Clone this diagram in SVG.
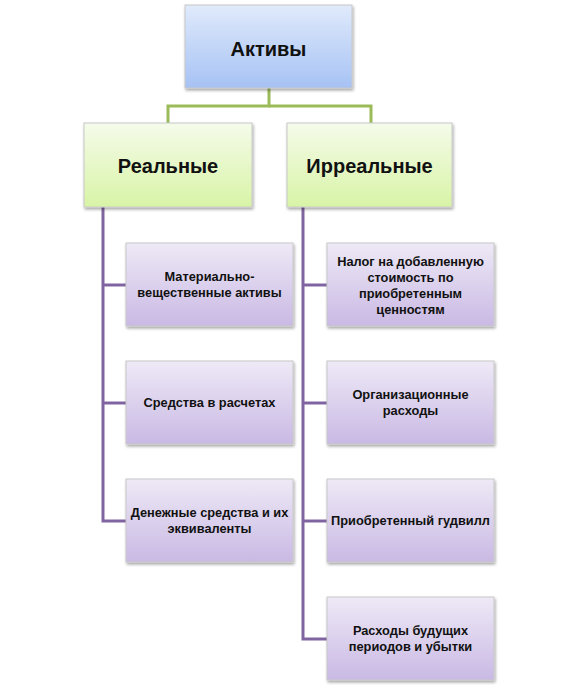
<svg xmlns="http://www.w3.org/2000/svg" width="580" height="690" viewBox="0 0 580 690">
<defs>
<linearGradient id="gBlue" x1="0" y1="0" x2="0" y2="1"><stop offset="0" stop-color="#e0eafb"/><stop offset="1" stop-color="#a6c2f4"/></linearGradient>
<linearGradient id="gGreen" x1="0" y1="0" x2="0" y2="1"><stop offset="0" stop-color="#f5fbea"/><stop offset="1" stop-color="#d8f4a6"/></linearGradient>
<linearGradient id="gPurple" x1="0" y1="0" x2="0" y2="1"><stop offset="0" stop-color="#eee9f6"/><stop offset="1" stop-color="#c9b9e4"/></linearGradient>
<filter id="sh" x="-10%" y="-10%" width="125%" height="130%"><feGaussianBlur in="SourceAlpha" stdDeviation="1.5"/><feOffset dx="1" dy="2"/><feComponentTransfer><feFuncA type="linear" slope="0.35"/></feComponentTransfer><feMerge><feMergeNode/><feMergeNode in="SourceGraphic"/></feMerge></filter>
</defs>
<style>
.box{stroke:#c8c8c8;stroke-width:1;filter:url(#sh)}
.b{fill:url(#gBlue)}
.g{fill:url(#gGreen)}
.p{fill:url(#gPurple)}
.big{font-family:"Liberation Sans",Arial,sans-serif;font-weight:bold;font-size:20px;fill:#111;text-anchor:middle}
.sm{font-family:"Liberation Sans",Arial,sans-serif;font-weight:bold;font-size:12.8px;fill:#111;text-anchor:middle}
.cg{stroke:#9bbb59;stroke-width:3;fill:none}
.cp{stroke:#8064a2;stroke-width:3;fill:none}
</style>
<g id="connectors">
<polyline class="cg" points="269,88 269,106 168,106 168,123"/>
<polyline class="cg" points="269,106 371,106 371,123"/>
<polyline class="cp" points="103,207 103,521 126,521"/>
<line class="cp" x1="103" y1="285" x2="126" y2="285"/>
<line class="cp" x1="103" y1="403" x2="126" y2="403"/>
<polyline class="cp" points="303,207 303,639 327,639"/>
<line class="cp" x1="303" y1="285" x2="327" y2="285"/>
<line class="cp" x1="303" y1="403" x2="327" y2="403"/>
<line class="cp" x1="303" y1="521" x2="327" y2="521"/>
</g>
<g id="aktivy"><rect class="box b" x="185" y="5" width="167" height="83"/><text class="big" x="268.5" y="56">Активы</text></g>
<g id="realnye"><rect class="box g" x="84" y="123" width="168" height="84"/><text class="big" x="168" y="173">Реальные</text></g>
<g id="irrealnye"><rect class="box g" x="287" y="123" width="165" height="84"/><text class="big" x="369.5" y="173">Ирреальные</text></g>
<g id="r1"><rect class="box p" x="126" y="243" width="167" height="83"/><text class="sm" x="209.5" y="281">Материально-</text><text class="sm" x="209.5" y="297">вещественные активы</text></g>
<g id="r2"><rect class="box p" x="126" y="361" width="167" height="83"/><text class="sm" x="209.5" y="407">Средства в расчетах</text></g>
<g id="r3"><rect class="box p" x="126" y="479" width="167" height="83"/><text class="sm" x="209.5" y="517">Денежные средства и их</text><text class="sm" x="209.5" y="533">эквиваленты</text></g>
<g id="i1"><rect class="box p" x="327" y="243" width="167" height="83"/><text class="sm" x="410.5" y="266">Налог на добавленную</text><text class="sm" x="410.5" y="282">стоимость по</text><text class="sm" x="410.5" y="298">приобретенным</text><text class="sm" x="410.5" y="314">ценностям</text></g>
<g id="i2"><rect class="box p" x="327" y="361" width="167" height="83"/><text class="sm" x="410.5" y="399">Организационные</text><text class="sm" x="410.5" y="415">расходы</text></g>
<g id="i3"><rect class="box p" x="327" y="479" width="167" height="83"/><text class="sm" x="410.5" y="525">Приобретенный гудвилл</text></g>
<g id="i4"><rect class="box p" x="327" y="597" width="167" height="83"/><text class="sm" x="410.5" y="635">Расходы будущих</text><text class="sm" x="410.5" y="651">периодов и убытки</text></g>
</svg>
